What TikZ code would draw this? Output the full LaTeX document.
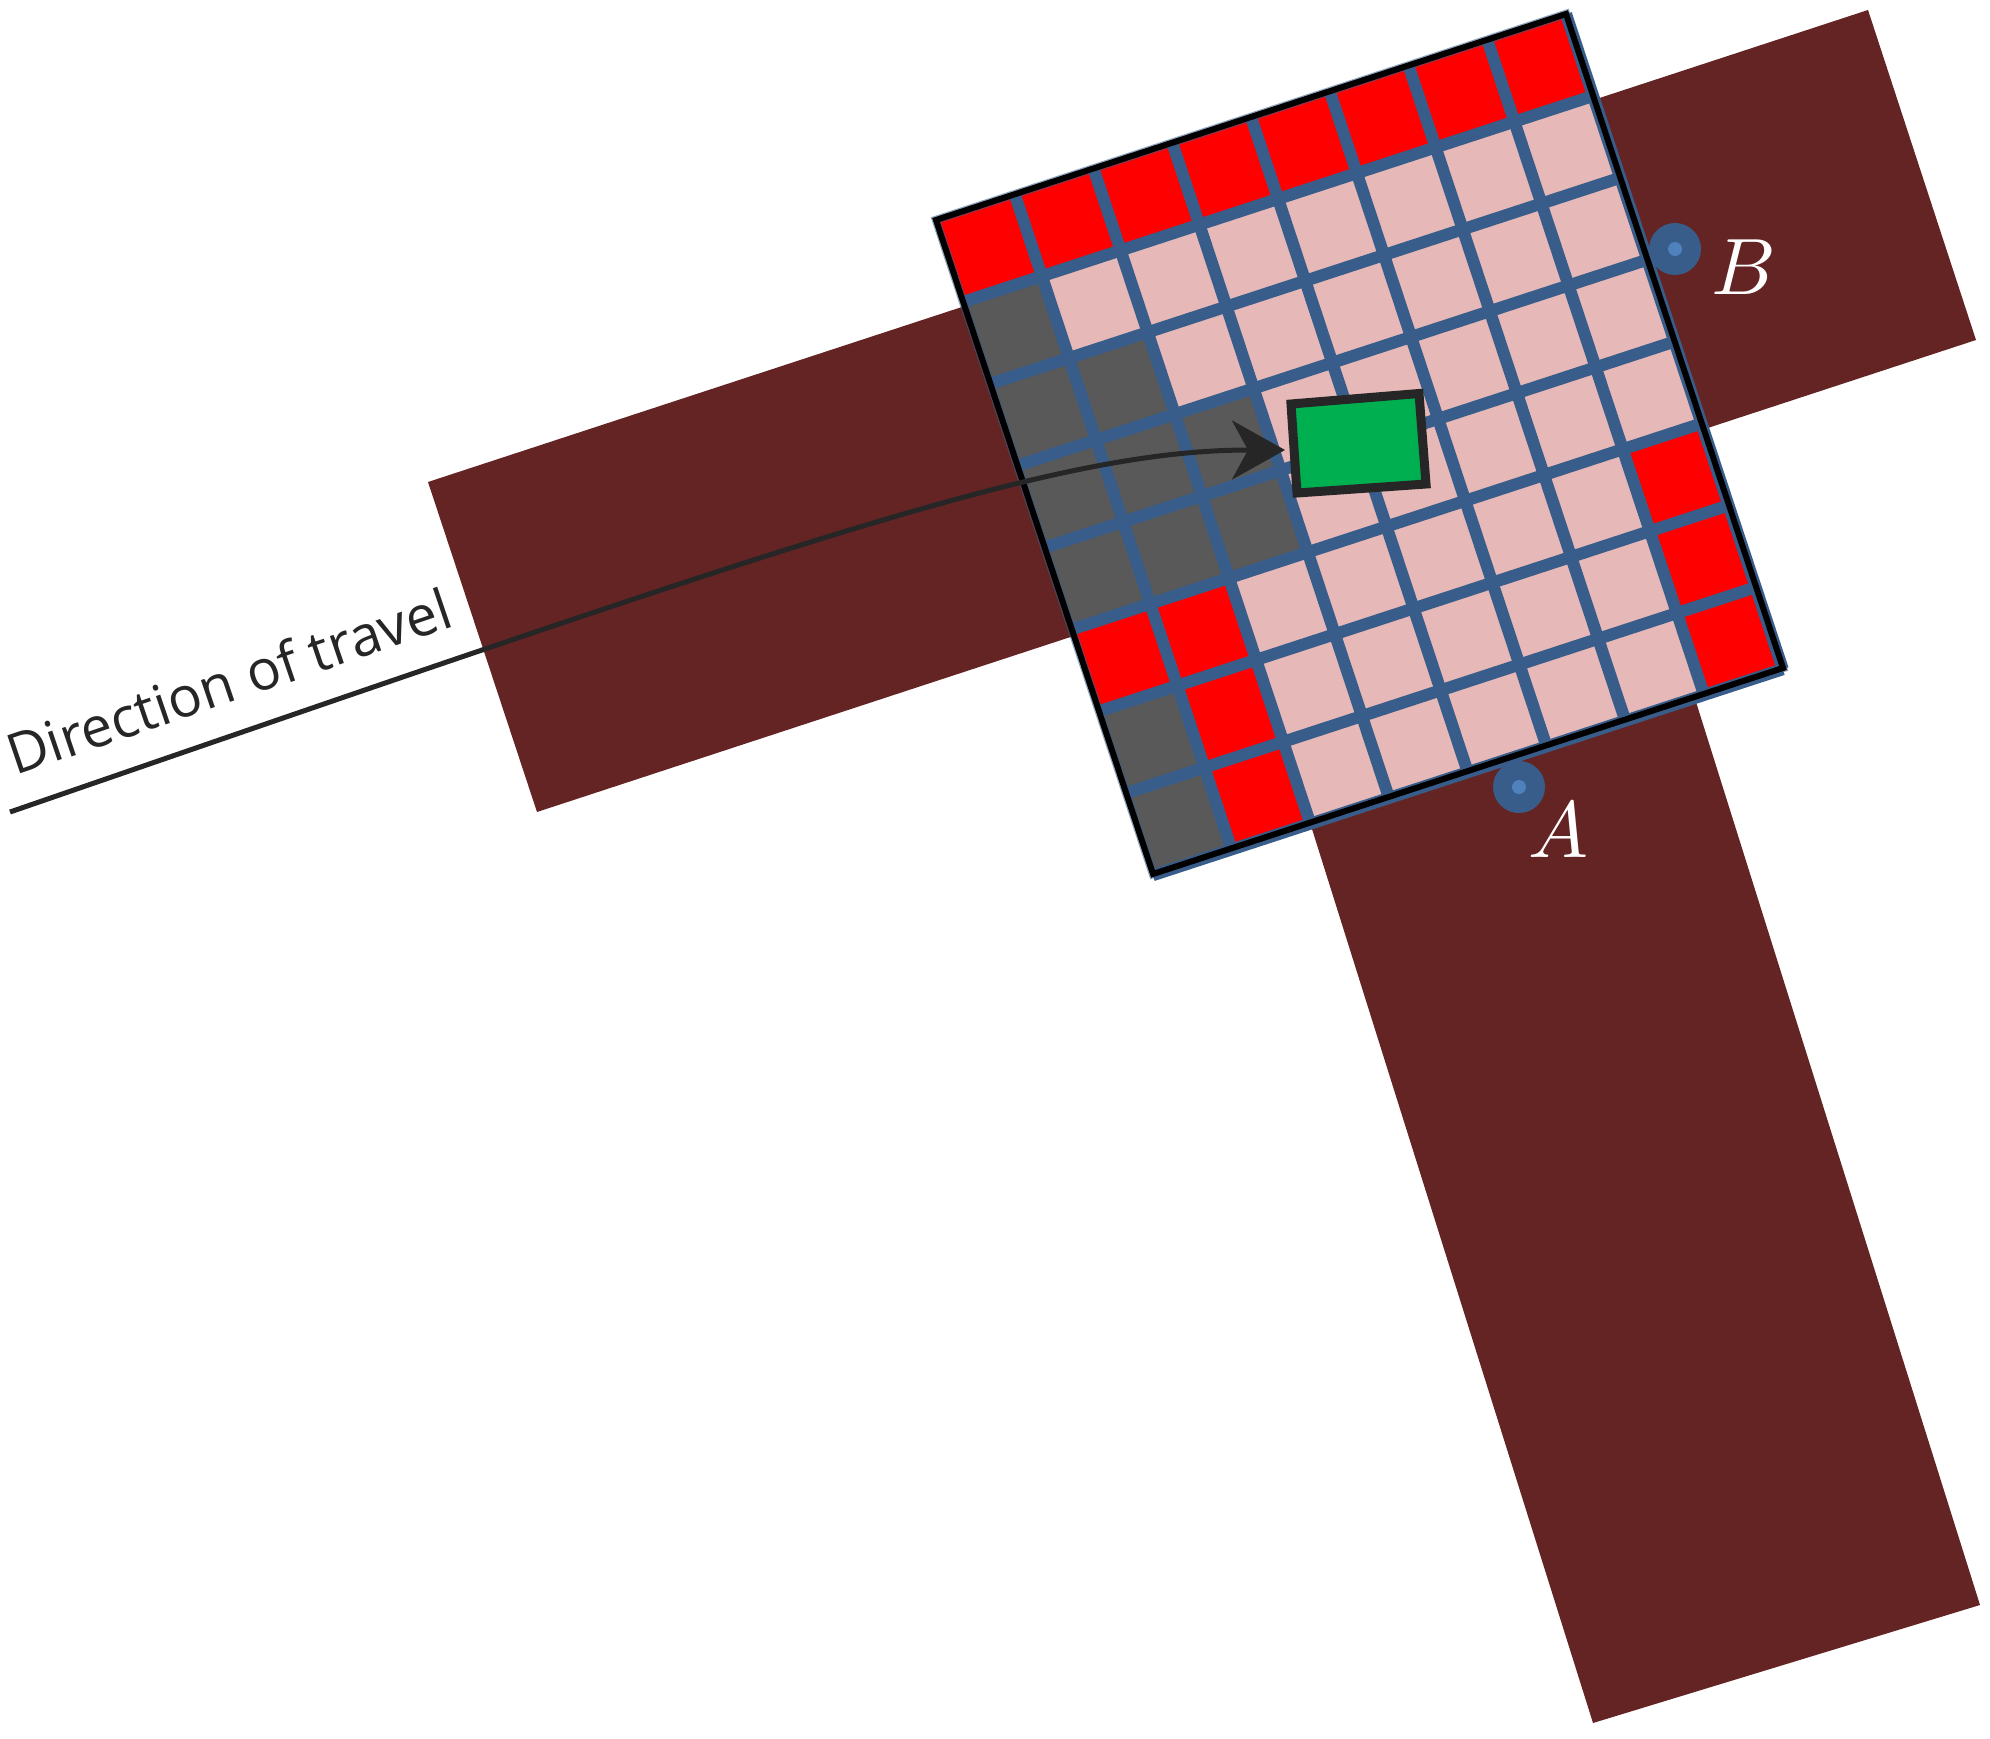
\documentclass[tikz,border=0pt]{standalone}
\usepackage{fontspec}
\newfontfamily\labelfont{Open Sans}
\usetikzlibrary{arrows.meta}
\definecolor{barbrown}{HTML}{632423}
\definecolor{cellpink}{HTML}{E6B8B7}
\definecolor{cellgray}{HTML}{595959}
\definecolor{gridblue}{HTML}{385D8A}
\definecolor{dotblue}{HTML}{4F81BD}
\definecolor{carGreen}{HTML}{00B050}
\definecolor{inkdark}{HTML}{262626}
\newcommand{\cellat}[3]{\fill[#3] ({936+#1*78.75+#2*27.1},{220-#1*25.75+#2*81.9}) -- ({936+(#1+1)*78.75+#2*27.1},{220-(#1+1)*25.75+#2*81.9}) -- ({936+(#1+1)*78.75+(#2+1)*27.1},{220-(#1+1)*25.75+(#2+1)*81.9}) -- ({936+#1*78.75+(#2+1)*27.1},{220-#1*25.75+(#2+1)*81.9}) -- cycle;}
\tikzset{
  roadbar/.style={fill=barbrown},
  gridline/.style={draw=gridblue,line width=12pt,line cap=butt},
  frameline/.style={draw=black,line width=6pt,line join=miter},
  sensorouter/.style={circle,fill=gridblue,minimum size=52pt,inner sep=0pt},
  sensorinner/.style={circle,fill=dotblue,minimum size=14pt,inner sep=0pt},
  whitelabel/.style={text=white,scale=8,inner sep=0pt},
  carbox/.style={fill=carGreen,draw=inkdark,line width=9pt,line join=miter},
  travelline/.style={draw=inkdark,line width=5pt,-{Stealth[length=53pt,width=59pt,inset=16pt]}}
}
\begin{document}
\begin{tikzpicture}[x=1pt,y=-1pt]
\useasboundingbox (0,0) rectangle (1990,1739);
% roads
\fill[roadbar] (428,482) -- (1868,10) -- (1976,340) -- (537,812) -- cycle;
\fill[roadbar] (1301,794) -- (1685,667) -- (1980,1605) -- (1593,1723) -- cycle;
% cells
\foreach \i in {0,...,7}{\foreach \j in {0,...,7}{\cellat{\i}{\j}{cellpink}}}
\foreach \i/\j in {0/1,0/2,1/2,0/3,1/3,2/3,0/4,1/4,2/4,0/6,0/7}{\cellat{\i}{\j}{cellgray}}
\foreach \i in {0,...,7}{\cellat{\i}{0}{red}}
\foreach \i/\j in {0/5,1/5,1/6,1/7,7/5,7/6,7/7}{\cellat{\i}{\j}{red}}
% grid lines
\foreach \k in {1,...,8}{
  \draw[gridline] ({936+\k*78.75},{220-\k*25.75}) -- ({936+\k*78.75+8*27.1},{220-\k*25.75+8*81.9});
  \draw[gridline] ({936+\k*27.1},{220+\k*81.9}) -- ({936+\k*27.1+8*78.75},{220+\k*81.9-8*25.75});
}
% frame
\draw[draw=gridblue,line width=8.5pt,line join=miter,opacity=0.55] (936,220) -- (1566,14) -- (1783,668) -- (1153,874) -- cycle;
\draw[frameline] (936,220) -- (1566,14) -- (1783,668) -- (1153,874) -- cycle;
% car
\draw[carbox] (1291,404) -- (1419,393.5) -- (1426,484) -- (1297,493) -- cycle;
% sensors
\node[sensorouter] (sensorA) at (1519,787) {};
\node[sensorinner] (dotA) at (sensorA) {};
\node[sensorouter] (sensorB) at (1675,249) {};
\node[sensorinner] (dotB) at (sensorB) {};
\node[whitelabel] (labelA) at (1558,830) {$A$};
\node[whitelabel] (labelB) at (1744,267) {$B$};
% direction of travel
\coordinate (lineStart) at (10,812);
\coordinate (lineEnd) at (1285,450);
\draw[travelline] (lineStart) .. controls (800,540) and (1055,450) .. (lineEnd);
\node[rotate=18.8,anchor=base west,inner sep=0pt,text=inkdark,font=\labelfont\fontsize{56}{66}\selectfont] (travelLabel) at (15,776) {Direction of travel};
\end{tikzpicture}
\end{document}
